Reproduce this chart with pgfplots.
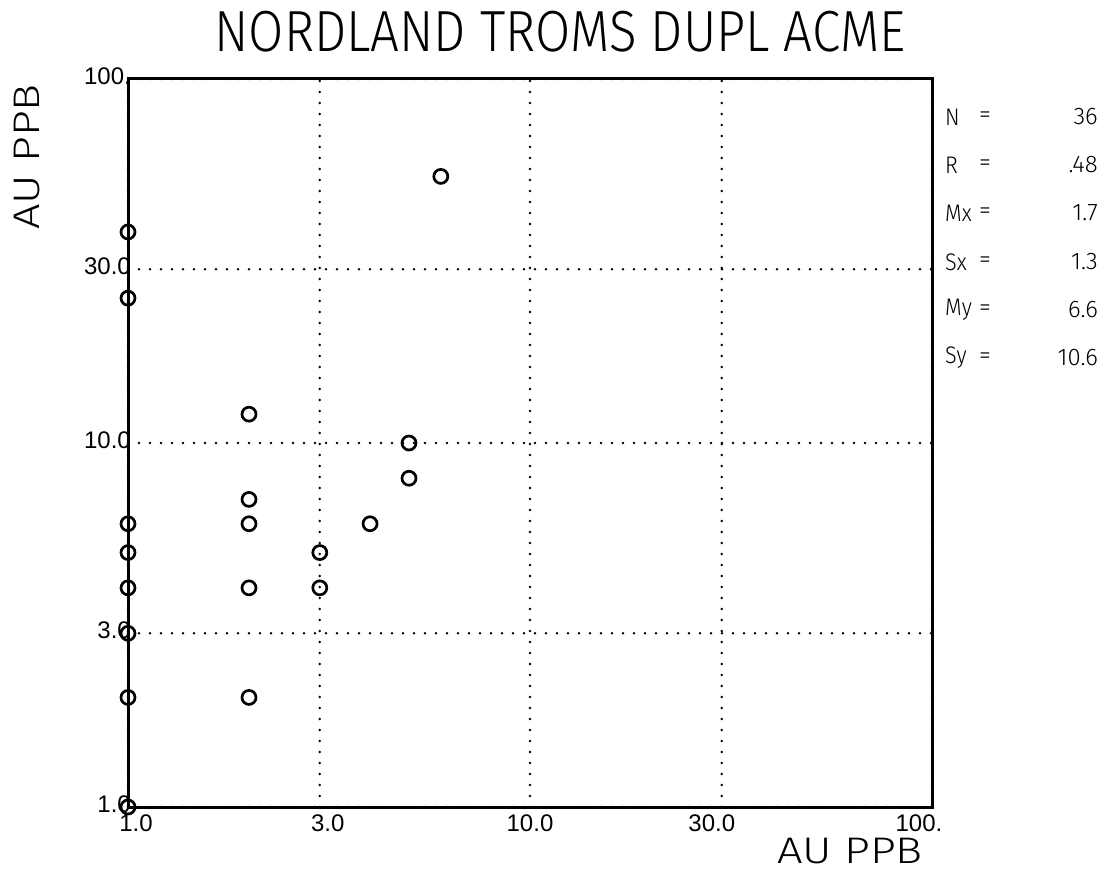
\documentclass[border=0pt]{standalone}
\usepackage{fontspec}
\setmainfont{Liberation Sans}
\newfontfamily\thinfont{Fira Sans Light}
\usepackage{pgfplots}
\pgfplotsset{compat=1.18}
\begin{document}
\begin{tikzpicture}[x=1pt,y=1pt]
\useasboundingbox (0,0) rectangle (1110,875);
\begin{axis}[
  at={(128pt,68pt)}, anchor=south west,
  scale only axis, width=804pt, height=728pt,
  xmode=log, ymode=log,
  xmin=1, xmax=100, ymin=1, ymax=100,
  xtick={1,3,10,30,100},
  xticklabels={\kern16pt 1.0,\kern16pt 3.0,10.0,30.0\kern20pt,100.\kern26pt},
  ytick={1,3,10,30,100}, yticklabels={1.0,3.0,10.0,30.0,100.},
  minor tick num=0, major tick length=0pt,
  grid=major,
  major grid style={black, line width=2.7pt, line cap=round, dash pattern=on 0pt off 11pt},
  axis line style={line width=3pt},
  tick label style={font=\fontsize{24}{24}\selectfont},
  xticklabel style={anchor=north, inner sep=0pt, yshift=-8pt},
  yticklabel style={anchor=east, inner sep=0pt, xshift=3pt, yshift=3pt},
  clip=false,
]
\addplot[only marks, mark=o, mark size=7pt, line width=2.7pt, black] table {
x y
1 1
1 2
1 3
1 4
1 5
1 6
1 25
1 38
2 2
2 4
2 6
2 7
2 12
3 4
3 5
4 6
5 8
5 10
6 54
};
\end{axis}
\node at (560,843) {\scalebox{0.88}[1]{\thinfont\fontsize{58}{58}\selectfont NORDLAND TROMS DUPL ACME}};
\node[rotate=90] at (27,718) {\scalebox{1.22}[1]{\thinfont\fontsize{37}{37}\selectfont AU PPB}};
\node at (850,24) {\scalebox{1.22}[1]{\thinfont\fontsize{37}{37}\selectfont AU PPB}};
\begin{scope}[every node/.style={font=\thinfont\fontsize{24}{24}\selectfont, inner sep=0pt}]
\node[anchor=west] at (945,758) {\scalebox{0.9}[1]{N}};   \node at (985,758) {=}; \node[anchor=east] at (1098,758) {36};
\node[anchor=west] at (945,710) {\scalebox{0.9}[1]{R}};   \node at (985,710) {=}; \node[anchor=east] at (1098,710) {.48};
\node[anchor=west] at (945,662) {\scalebox{0.9}[1]{Mx}};  \node at (985,662) {=}; \node[anchor=east] at (1098,662) {1.7};
\node[anchor=west] at (945,613) {\scalebox{0.9}[1]{Sx}};  \node at (985,613) {=}; \node[anchor=east] at (1098,613) {1.3};
\node[anchor=west] at (945,565) {\scalebox{0.9}[1]{My}};  \node at (985,565) {=}; \node[anchor=east] at (1098,565) {6.6};
\node[anchor=west] at (945,517) {\scalebox{0.9}[1]{Sy}};  \node at (985,517) {=}; \node[anchor=east] at (1098,517) {10.6};
\end{scope}
\end{tikzpicture}
\end{document}
